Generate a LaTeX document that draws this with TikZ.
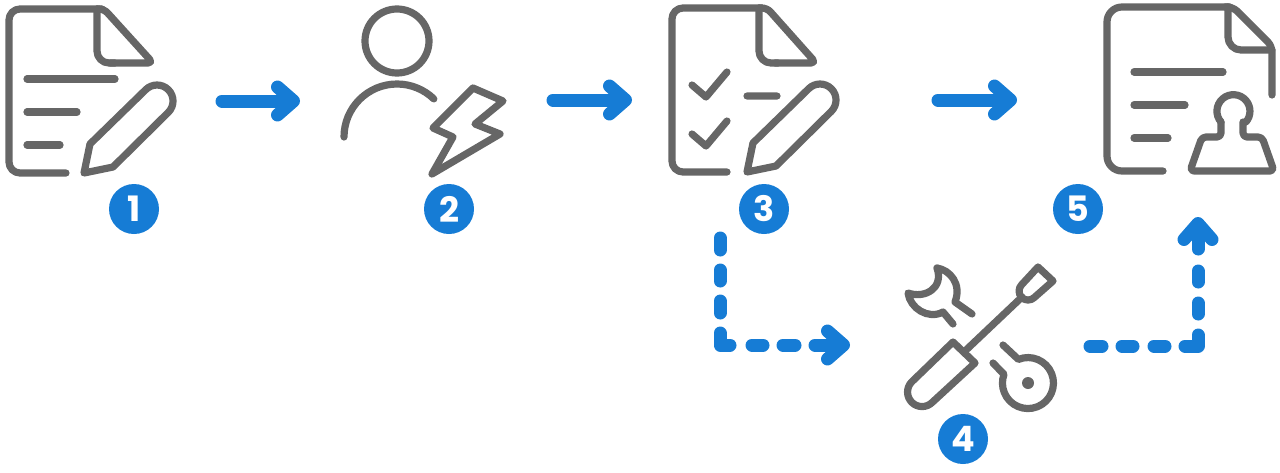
\documentclass[tikz,border=0pt]{standalone}
\usepackage{fontspec}
\setmainfont{Poppins}
\usetikzlibrary{arrows.meta}
\definecolor{icongray}{HTML}{666666}
\definecolor{flowblue}{HTML}{167CD5}
\tikzset{
  icon/.style={draw=icongray,line width=7.2pt,line cap=round,line join=round},
  badge/.style={circle,fill=flowblue,text=white,minimum size=50pt,inner sep=0pt,font=\fontsize{35}{35}\selectfont\bfseries},
  flow/.style={draw=flowblue,line width=13pt,line cap=round,line join=round,
    -{Straight Barb[round,length=16pt,width=28pt]}}
}
\newcommand{\pencilicon}{\path[icon] (84,173)--(90,144)--(145.7,89.7)
      arc[start angle=225,end angle=405,radius=16pt]--(113,167)--cycle;}
\begin{document}
\begin{tikzpicture}[x=1pt,y=1pt,yscale=-1]
\useasboundingbox (0,0) rectangle (1280,472);
% Icon 1
\path[icon,rounded corners=11pt] (66,173)--(9,173)--(9,9)--(102,9);
\path[icon,rounded corners=5pt] (97,9)--(104,9)--(153,63)--(110,63);
\path[icon,rounded corners=12pt] (115,63)--(97,63)--(97,9);
\path[icon] (27,79)--(115,79) (27,112)--(77,112) (27,145)--(60,145);
\pencilicon
% Icon 2
\path[icon] (397,41) circle[radius=32pt];
\path[icon] (344,137) arc[start angle=180,end angle=314,radius=53pt];
\path[icon] (473,88)--(503,101)--(475,124)--(500,134)--(432,174)--(453,137)--(433,128)--cycle;
% Icon 3
\path[icon,rounded corners=11pt] (727,172)--(672,172)--(672,8)--(762,8);
\path[icon,rounded corners=5pt] (759,8)--(767,8)--(816,63)--(775,63);
\path[icon,rounded corners=12pt] (778,63)--(759,63)--(759,8);
\path[icon] (692,85)--(706,97)--(727,72) (692,134)--(706,146)--(727,121) (747,96)--(777,96);
\begin{scope}[shift={(663,-1)}]\pencilicon\end{scope}
% Icon 5
\path[icon,rounded corners=15pt] (1163,171)--(1107,171)--(1107,7)--(1230,7);
\path[icon,rounded corners=6pt] (1225,7)--(1233,7)--(1272,46)--(1272,95);
\path[icon,rounded corners=13pt] (1272,50)--(1228,50)--(1228,7);
\path[icon] (1134,72)--(1223,72) (1134,105)--(1185,105) (1134,138)--(1168,138);
\path[icon,rounded corners=4pt] (1221,122)--(1221,137)--(1202,137)--(1190,171)--(1274,171)--(1262,137)--(1243,137)--(1243,122);
\path[icon] (1221,122) arc[start angle=139,end angle=401,radius=16.5pt];
% Icon 4
\path[icon] (937,268) .. controls (950,270) and (962,284) .. (955,302)--(972,314);
\path[icon] (937,268) .. controls (944,288) and (925,299) .. (908,293) .. controls (910,308) and (928,320) .. (943,312)--(953,324);
\path[icon] (953,342)--(975,363)--(932.3,402.3) arc[start angle=45,end angle=225,radius=14.5pt]--cycle;
\path[icon] (965,351)--(1022,297);
\path[icon] (1038,267)--(1053,281)--(1034.4,297.4) arc[start angle=45,end angle=225,radius=9pt]--cycle;
\path[icon] (1003,345)--(1018.4,359.4) arc[start angle=248,end angle=560,radius=25.5pt]--(993,363);
\fill[icongray] (1028,383) circle[radius=6pt];
% Badges
\node[badge] (b1) at (134,209) {1};
\node[badge] (b2) at (449,209) {2};
\node[badge] (b3) at (764,209) {3};
\node[badge] (b5) at (1078,209) {5};
\node[badge] (b4) at (963,439) {4};
% Connector ends
\coordinate (a1s) at (222,101); \coordinate (a1e) at (300,101);
\coordinate (a2s) at (553,100); \coordinate (a2e) at (632,100);
\coordinate (a3s) at (938,100); \coordinate (a3e) at (1017,100);
\coordinate (d1s) at (720,238); \coordinate (d1c) at (720,345); \coordinate (d1e) at (850,345);
\coordinate (d2s) at (1090,346); \coordinate (d2c) at (1198,346); \coordinate (d2e) at (1198,217);
\draw[flow] (a1s)--(a1e);
\draw[flow] (a2s)--(a2e);
\draw[flow] (a3s)--(a3e);
\draw[flow,dash pattern=on 12pt off 20pt on 11pt off 20pt on 12pt off 20pt on 22pt off 22pt on 11pt off 20pt on 12pt off 20pt on 200pt off 1pt] (d1s)--(d1c)--(d1e);
\draw[flow,dash pattern=on 12pt off 20pt on 11pt off 21pt on 11pt off 20pt on 24pt off 21pt on 11pt off 21pt on 11pt off 22pt on 200pt off 1pt] (d2s)--(d2c)--(d2e);
\end{tikzpicture}
\end{document}
